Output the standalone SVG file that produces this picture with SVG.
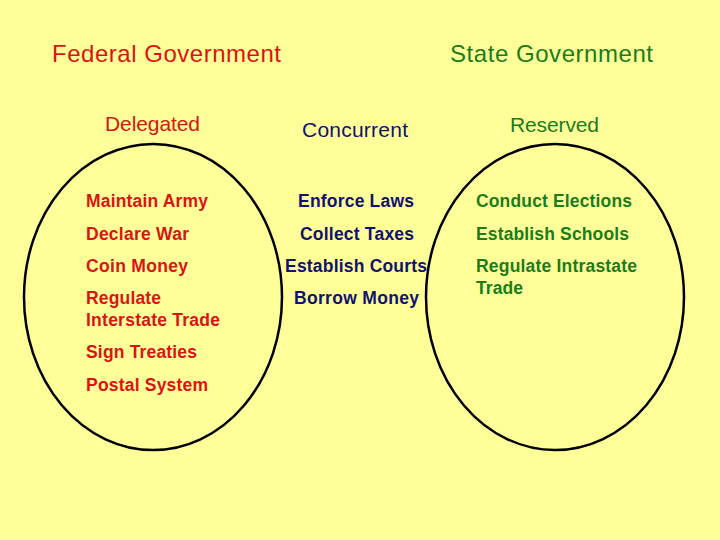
<svg xmlns="http://www.w3.org/2000/svg" width="720" height="540" viewBox="0 0 720 540">
<style>
text{font-family:"Liberation Sans",Arial,sans-serif}
.h{font-size:24px}
.sub{font-size:21px}
.it{font-size:17.5px;font-weight:bold}
.red{fill:#DA1414}
.navy{fill:#11116E}
.green{fill:#1A7D1A}
.ring{fill:none;stroke:#000;stroke-width:2.5}
</style>
<rect width="720" height="540" fill="#FFFF99"/>
<g id="federal">
  <text class="h red" x="52" y="62" textLength="229" lengthAdjust="spacing">Federal Government</text>
</g>
<g id="state">
  <text class="h green" x="450" y="62" textLength="203" lengthAdjust="spacing">State Government</text>
</g>
<g id="delegated">
  <ellipse class="ring" cx="153" cy="297" rx="129" ry="153"/>
  <text class="sub red" x="105" y="131" textLength="95" lengthAdjust="spacing">Delegated</text>
  <text class="it red" x="86" y="207" textLength="122" lengthAdjust="spacing">Maintain Army</text>
  <text class="it red" x="86" y="240" textLength="103" lengthAdjust="spacing">Declare War</text>
  <text class="it red" x="86" y="272" textLength="102" lengthAdjust="spacing">Coin Money</text>
  <text class="it red" x="86" y="304" textLength="75" lengthAdjust="spacing">Regulate</text>
  <text class="it red" x="86" y="326" textLength="134" lengthAdjust="spacing">Interstate Trade</text>
  <text class="it red" x="86" y="358" textLength="111" lengthAdjust="spacing">Sign Treaties</text>
  <text class="it red" x="86" y="391" textLength="122" lengthAdjust="spacing">Postal System</text>
</g>
<g id="concurrent">
  <text class="sub navy" x="302" y="137" textLength="106" lengthAdjust="spacing">Concurrent</text>
  <text class="it navy" x="298" y="207" textLength="116" lengthAdjust="spacing">Enforce Laws</text>
  <text class="it navy" x="300" y="240" textLength="114" lengthAdjust="spacing">Collect Taxes</text>
  <text class="it navy" x="285" y="272" textLength="142" lengthAdjust="spacing">Establish Courts</text>
  <text class="it navy" x="294" y="304" textLength="125" lengthAdjust="spacing">Borrow Money</text>
</g>
<g id="reserved">
  <ellipse class="ring" cx="555" cy="297" rx="129" ry="153"/>
  <text class="sub green" x="510" y="132" textLength="89" lengthAdjust="spacing">Reserved</text>
  <text class="it green" x="476" y="207" textLength="156" lengthAdjust="spacing">Conduct Elections</text>
  <text class="it green" x="476" y="240" textLength="153" lengthAdjust="spacing">Establish Schools</text>
  <text class="it green" x="476" y="272" textLength="161" lengthAdjust="spacing">Regulate Intrastate</text>
  <text class="it green" x="476" y="294" textLength="47" lengthAdjust="spacing">Trade</text>
</g>
</svg>
